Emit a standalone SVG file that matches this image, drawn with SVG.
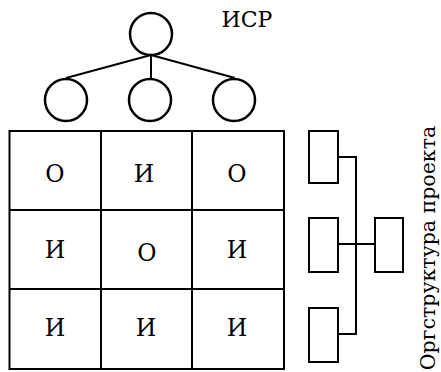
<svg xmlns="http://www.w3.org/2000/svg" width="441" height="372" viewBox="0 0 441 372">
<style>
.s{fill:none;stroke:#000;stroke-width:2}
.sw{fill:#fff;stroke:#000;stroke-width:2.5}
.t{fill:#000;text-anchor:middle;font-family:"DejaVu Serif",serif}
</style>
<rect width="441" height="372" fill="#fff"/>
<g id="connectors">
<path class="s" d="M151 55 L66 78 M151 55 V78 M151 55 L235 78"/>
<path class="s" d="M338 157 H356 V334 H338 M338 244 H375"/>
</g>
<g id="isr-root"><circle class="sw" cx="151" cy="34" r="21"/></g>
<g id="isr-1"><circle class="sw" cx="66" cy="100" r="21"/></g>
<g id="isr-2"><circle class="sw" cx="150" cy="100" r="21"/></g>
<g id="isr-3"><circle class="sw" cx="234" cy="100" r="21"/></g>
<g id="isr-label"><text class="t" x="247" y="27" font-size="22">ИСР</text></g>
<g id="matrix">
<rect class="s" x="9.5" y="131" width="274.5" height="238" stroke-width="2.5"/>
<path class="s" d="M101 131 V369 M192 131 V369 M9.5 210 H284 M9.5 289 H284" stroke-width="2.5"/>
<g class="t" font-size="23.5">
<text x="55" y="182">О</text><text x="144" y="182">И</text><text x="237" y="182">О</text>
<text x="55" y="258">И</text><text x="147" y="261">О</text><text x="237" y="258">И</text>
<text x="55" y="336">И</text><text x="146" y="336">И</text><text x="237" y="336">И</text>
</g>
</g>
<g id="org-1"><rect class="s" x="309" y="131" width="29" height="52" stroke-width="2.5"/></g>
<g id="org-2"><rect class="s" x="309" y="218" width="29" height="54" stroke-width="2.5"/></g>
<g id="org-3"><rect class="s" x="309" y="308" width="29" height="54" stroke-width="2.5"/></g>
<g id="org-head"><rect class="s" x="375" y="218" width="28" height="54" stroke-width="2.5"/></g>
<g id="org-label"><text class="t" font-size="20.5" transform="translate(435 248) rotate(-90)">Оргструктура проекта</text></g>
</svg>
